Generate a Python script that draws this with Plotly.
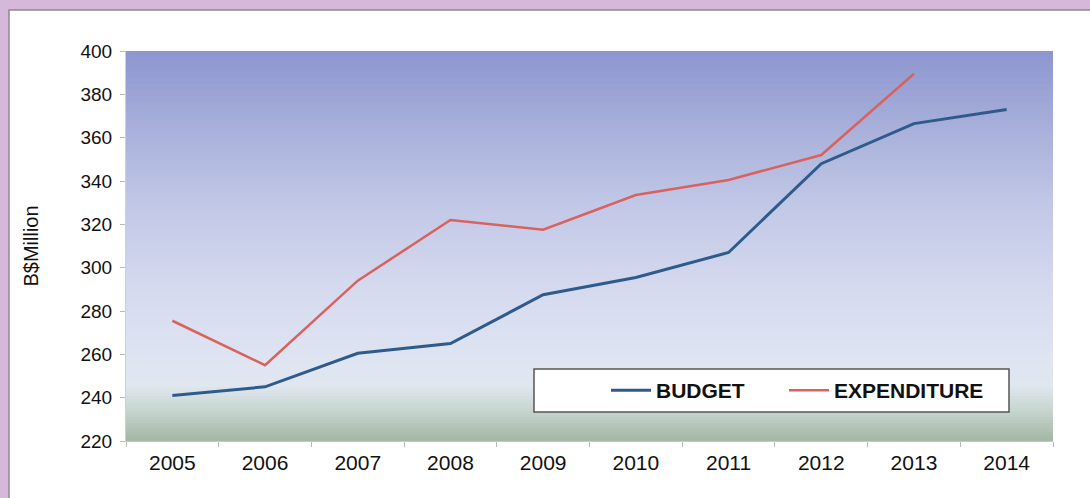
import plotly.graph_objects as go

years = ["2005", "2006", "2007", "2008", "2009", "2010", "2011", "2012", "2013", "2014"]
budget = [241, 245, 260.5, 265, 287.5, 295.5, 307, 348, 366.5, 373]
expenditure = [275.5, 255, 294, 322, 317.5, 333.5, 340.5, 352, 389.5, None]
y_ticks = [220, 240, 260, 280, 300, 320, 340, 360, 380, 400]

W, H = 1090, 498
L, R, T, B = 126, 37, 51, 57
pw, ph = W - L - R, H - T - B

def px(xp):
    return (xp - L) / pw

def py(yp):
    return (H - B - yp) / ph

fig = go.Figure()
fig.add_trace(go.Scatter(x=years, y=budget, mode="lines", name="BUDGET",
                         line=dict(color="#2f5b8c", width=3), legend="legend"))
fig.add_trace(go.Scatter(x=years, y=expenditure, mode="lines", name="EXPENDITURE",
                         line=dict(color="#d9625f", width=2.5), legend="legend2"))

shapes = []
# white panel
shapes.append(dict(type="rect", xref="paper", yref="paper", x0=px(9), x1=px(1100),
                   y0=py(505), y1=py(10), fillcolor="white",
                   line=dict(color="#8a8a8a", width=1.5), layer="below"))
# gradient plot background
stops = [(51, (140, 150, 207)), (120, (165, 173, 217)), (200, (192, 198, 229)),
         (280, (211, 216, 238)), (350, (222, 227, 242)), (385, (224, 231, 240)),
         (410, (200, 214, 208)), (441, (162, 182, 162))]
def col(yp):
    for (y0, c0), (y1, c1) in zip(stops, stops[1:]):
        if y0 <= yp <= y1:
            t = (yp - y0) / (y1 - y0)
            return "rgb(%d,%d,%d)" % tuple(round(a + (b - a) * t) for a, b in zip(c0, c1))
    return "rgb(%d,%d,%d)" % stops[-1][1]
step = 3
yp = 51
while yp < 441:
    y2 = min(yp + step, 441)
    shapes.append(dict(type="rect", xref="paper", yref="paper", x0=0, x1=1,
                       y0=py(y2), y1=py(yp), fillcolor=col((yp + y2) / 2),
                       line=dict(width=0), layer="below"))
    yp = y2
# legend box
shapes.append(dict(type="rect", xref="paper", yref="paper", x0=px(534), x1=px(1009),
                   y0=py(412), y1=py(369), fillcolor="white",
                   line=dict(color="#555555", width=1.5), layer="above"))

legend_font = dict(size=21, color="#111111", family="Liberation Sans, Arial, sans-serif", weight="bold")
fig.update_layout(
    width=W, height=H,
    margin=dict(l=L, r=R, t=T, b=B),
    paper_bgcolor="#d6b8da",
    plot_bgcolor="rgba(0,0,0,0)",
    font=dict(family="Liberation Sans, Arial, sans-serif", color="#111111", size=19),
    shapes=shapes,
    showlegend=True,
    legend=dict(orientation="h", x=px(606), y=py(370), xanchor="left", yanchor="top",
                bgcolor="rgba(0,0,0,0)", borderwidth=0, font=legend_font, itemwidth=40),
    legend2=dict(orientation="h", x=px(784), y=py(370), xanchor="left", yanchor="top",
                 bgcolor="rgba(0,0,0,0)", borderwidth=0, font=legend_font, itemwidth=40),
    xaxis=dict(type="category", range=[-0.5, 9.5], showgrid=False, showline=True,
               linecolor="#c8c8c8", linewidth=1, ticks="outside", ticklen=5,
               tickcolor="#bbbbbb", tickson="boundaries", tickfont=dict(size=21),
               ticklabelstandoff=3),
    yaxis=dict(range=[220, 400], tickvals=y_ticks, showgrid=False, showline=True,
               linecolor="#d0d0d0", linewidth=1, ticks="outside", ticklen=5,
               tickcolor="#bbbbbb", tickfont=dict(size=19), ticklabelstandoff=4,
               title=dict(text="B$Million", font=dict(size=20), standoff=36)),
)

fig.write_html("out.html", config={"displayModeBar": False},
               post_script="document.body.style.margin='0';document.body.style.overflow='hidden';")
